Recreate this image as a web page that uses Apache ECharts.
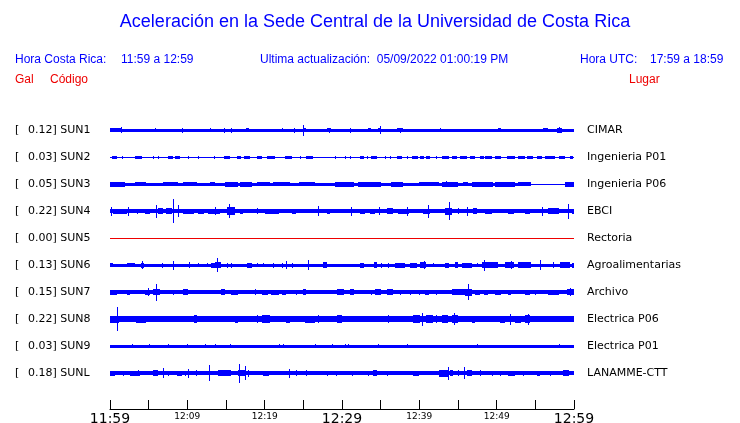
<!DOCTYPE html>
<html><head><meta charset="utf-8">
<script src="https://cdn.jsdelivr.net/npm/echarts@6/dist/echarts.min.js"></script>
<style>html,body{margin:0;padding:0;background:#fff}#c{width:740px;height:423px}</style>
</head><body><div id="c"></div>
<script>
// ---------- data ----------
const titleText = 'Aceleración en la Sede Central de la Universidad de Costa Rica';
const localLabel = 'Hora Costa Rica:';
const localRange = '11:59 a 12:59';
const updateText = 'Ultima actualización:  05/09/2022 01:00:19 PM';
const utcLabel = 'Hora UTC:';
const utcRange = '17:59 a 18:59';
const unitHeader = 'Gal';
const codeHeader = 'Código';
const placeHeader = 'Lugar';

const stations = ['SUN1','SUN2','SUN3','SUN4','SUN5','SUN6','SUN7','SUN8','SUN9','SUNL'];
const places = ['CIMAR','Ingenieria P01','Ingenieria P06','EBCI','Rectoria','Agroalimentarias','Archivo','Electrica P06','Electrica P01','LANAMME-CTT'];
const peaks = [0.12,0.03,0.05,0.22,0.00,0.13,0.15,0.22,0.03,0.18];

// minutes after 11:59
const tickLabels = ['11:59','','12:09','','12:19','','12:29','','12:39','','12:49','','12:59'];
const majorLabels = ['11:59','12:29','12:59'];

// background noise level (gal): [fromMin, toMin, halfAmplitude]
const band1 = [[0,60,0.028]];
const band2 = [[0,60,0.004]];
const band3 = [[0,54.5,0.028],[54.5,58.9,0.004],[58.9,60,0.028]];
const band4 = [[0,60,0.035]];
const band5 = [[0,60,0]];
const band6 = [[0,60,0.032]];
const band7 = [[0,60,0.035]];
const band8 = [[0,60,0.052]];
const band9 = [[0,60,0.03]];
const bandL = [[0,60,0.035]];

// events (gal): [min, amp] spike or [fromMin, toMin, amp] burst
const ev1 = [[0,1.5,0.04],[1.45,0.058],[5.8,0.037],[9.35,0.045],[12.9,0.04],[14.8,0.05],[15.7,0.045],[17.6,18.0,0.04],[22.2,0.04],[23.8,0.05],[24.9,25.3,0.04],[25.0,0.1],[28.0,28.6,0.04],[28.3,0.05],[31.0,0.05],[33.4,33.8,0.038],[34.7,35.1,0.04],[34.9,0.075],[37.1,37.9,0.04],[37.5,0.05],[42.7,0.04],[50.2,50.6,0.04],[56.0,56.6,0.038],[57.8,58.4,0.045],[58.1,0.06]];
const ev2 = [[0.2,0.9,0.025],[1.5,0.025],[3.2,4.1,0.025],[5.6,0.025],[6.25,0.025],[7.5,8.1,0.025],[8.4,9.05,0.025],[10.1,0.025],[11.4,0.025],[13.4,13.6,0.025],[14.7,15.5,0.025],[16.4,17.0,0.025],[17.3,18.1,0.025],[19.0,19.6,0.025],[20.3,21.3,0.025],[22.6,23.5,0.025],[24.6,0.025],[25.4,26.3,0.025],[29.1,0.025],[30.4,0.025],[31.0,0.025],[32.3,32.8,0.025],[33.2,0.025],[33.8,34.5,0.025],[35.6,0.025],[36.2,0.025],[37.1,37.7,0.025],[38.4,0.025],[39.0,39.8,0.025],[40.1,40.6,0.025],[40.9,41.4,0.025],[42.2,0.025],[42.9,43.9,0.028],[44.2,44.9,0.025],[45.2,46.1,0.025],[46.6,47.2,0.025],[47.8,48.3,0.025],[48.5,49.4,0.025],[49.8,50.6,0.025],[51.3,52.4,0.025],[52.8,53.6,0.025],[53.9,54.7,0.025],[55.2,55.8,0.025],[56.3,57.5,0.025],[58.0,58.8,0.025],[59.5,59.9,0.025]];
const ev3 = [[0,1.9,0.042],[3.2,4.7,0.04],[6.9,8.8,0.04],[9.5,11.2,0.04],[12.9,13.6,0.04],[14.9,16.5,0.042],[16.8,18.3,0.042],[19.0,20.7,0.04],[21.1,23.3,0.04],[24.4,26.5,0.04],[29.1,31.5,0.042],[32.1,33.5,0.042],[33.5,35.1,0.048],[36.4,37.9,0.042],[39.9,42.5,0.04],[42.9,45.0,0.045],[43.5,0.055],[45.7,46.3,0.04],[46.8,49.5,0.042],[49.8,52.4,0.042],[51.6,52.0,0.05],[52.8,54.5,0.04],[58.9,60,0.042]];
const ev4 = [[0.1,0.085],[0.4,1.3,0.048],[1.3,2.2,0.048],[2.3,0.085],[3.5,0.05],[4.5,5.2,0.048],[6.0,0.12],[6.25,6.9,0.055],[7.3,8.0,0.055],[8.15,0.22],[8.85,0.11],[9.5,10.8,0.048],[11.4,12.1,0.048],[12.7,14.2,0.048],[13.6,0.07],[15.1,16.2,0.07],[15.4,0.13],[16.8,17.2,0.05],[19.0,0.06],[20.0,21.8,0.045],[23.5,24.1,0.048],[26.9,0.09],[28.0,28.4,0.05],[31.1,0.085],[32.3,33.0,0.045],[33.6,34.3,0.048],[34.8,0.07],[35.8,36.6,0.052],[37.3,38.6,0.048],[38.4,0.08],[40.5,41.4,0.05],[41.1,0.12],[43.3,44.2,0.065],[43.8,0.17],[45.0,0.06],[46.1,0.08],[47.0,47.4,0.055],[48.5,49.4,0.048],[51.5,52.2,0.048],[53.7,54.3,0.048],[55.8,0.08],[56.7,58.0,0.055],[59.2,0.14],[59.7,60,0.05]];
const ev5 = [];
const ev6 = [[0,0.4,0.04],[2.2,3.2,0.04],[4.0,4.4,0.048],[4.1,0.077],[6.7,0.045],[8.1,0.08],[10.2,0.06],[11.4,0.04],[12.5,0.04],[13.1,13.6,0.048],[13.6,14.4,0.06],[13.9,0.13],[15.1,0.05],[15.7,0.05],[17.7,18.3,0.048],[19.0,0.04],[19.8,0.04],[21.1,0.05],[22.2,0.05],[22.8,0.075],[23.5,0.05],[25.6,0.09],[27.6,28.0,0.055],[32.3,32.8,0.048],[34.1,34.5,0.055],[35.1,0.05],[36.0,0.05],[36.9,38.1,0.048],[38.8,39.7,0.048],[40.1,40.9,0.055],[40.6,0.077],[41.8,0.04],[43.3,43.8,0.048],[44.6,45.0,0.055],[45.5,46.8,0.048],[47.4,0.04],[48.1,50.2,0.055],[48.4,0.1],[51.1,52.2,0.055],[51.9,0.075],[52.8,54.5,0.055],[55.6,0.09],[57.3,0.06],[58.2,59.5,0.052],[59.7,60,0.045]];
const ev7 = [[0,0.9,0.045],[2.2,2.6,0.048],[4.5,5.2,0.048],[4.9,0.075],[5.6,6.5,0.055],[5.95,0.157],[8.2,0.05],[9.5,10.1,0.06],[12.1,12.5,0.04],[13.4,0.04],[14.4,14.9,0.055],[15.7,16.6,0.045],[17.2,0.04],[18.75,0.06],[19.6,20.4,0.048],[20.8,21.8,0.048],[22.2,22.8,0.048],[24.0,0.05],[25.0,25.4,0.055],[26.4,0.04],[27.4,0.04],[28.4,0.04],[29.3,30.2,0.052],[31.0,31.5,0.052],[32.5,0.04],[33.8,0.05],[34.3,35.1,0.052],[35.8,36.6,0.052],[37.5,0.05],[38.8,0.05],[39.9,0.045],[40.7,41.2,0.048],[42.2,0.05],[44.2,45.9,0.052],[45.9,46.8,0.065],[46.3,0.148],[47.2,47.8,0.048],[48.3,48.9,0.048],[49.8,50.6,0.048],[51.5,51.9,0.048],[53.7,54.3,0.048],[55.0,0.045],[56.7,58.0,0.048],[59.1,60,0.055],[59.5,0.07]];
const ev8 = [[0,1.1,0.065],[0.86,0.22],[3.4,4.7,0.065],[6.9,8.0,0.06],[8.6,10.1,0.06],[10.8,11.2,0.07],[13.1,14.2,0.06],[16.2,16.6,0.065],[19.0,0.075],[19.6,20.7,0.072],[22.8,23.3,0.065],[25.2,26.5,0.065],[26.9,0.07],[29.3,30.0,0.07],[32.8,33.4,0.06],[36.0,0.075],[39.2,40.1,0.07],[40.3,0.117],[40.9,41.8,0.07],[42.2,0.075],[42.9,43.75,0.075],[44.2,45.0,0.072],[44.5,0.11],[46.8,47.2,0.065],[50.4,51.1,0.065],[51.7,0.1],[52.4,53.2,0.065],[53.7,54.3,0.075],[54.0,0.105],[57.1,58.0,0.06],[59.3,59.7,0.06]];
const ev9 = [[2.8,0.04],[5.0,0.04],[7.5,0.04],[9.9,0.04],[12.3,0.04],[13.6,0.04],[15.5,0.04],[21.8,0.04],[22.4,0.04],[26.5,0.04],[28.7,0.04],[30.4,0.04],[30.8,0.04],[34.7,0.04],[38.4,0.04],[47.4,0.04],[58.0,0.04]];
const evL = [[0,0.6,0.045],[1.7,0.05],[2.6,3.9,0.048],[3.6,0.06],[5.6,6.25,0.052],[6.9,0.09],[7.45,0.05],[8.6,9.3,0.048],[9.7,0.05],[10.1,0.085],[11.1,0.055],[12.85,0.145],[14.0,15.7,0.055],[16.5,17.5,0.055],[16.7,0.173],[17.5,0.127],[17.8,0.065],[19.8,20.5,0.048],[23.1,0.085],[24.1,0.06],[25.3,0.06],[28.0,0.045],[29.2,0.05],[31.25,0.045],[33.4,0.045],[34.05,34.5,0.055],[35.8,0.05],[37.9,0.04],[39.2,39.9,0.048],[41.4,0.04],[42.5,43.75,0.062],[43.75,0.12],[44.0,44.4,0.055],[45.0,0.06],[45.8,0.11],[46.1,46.8,0.055],[47.8,0.055],[49.4,0.05],[50.4,0.05],[51.5,52.4,0.048],[53.4,0.05],[55.2,55.6,0.048],[56.9,0.045],[58.6,59.3,0.055]];

const bands = [band1,band2,band3,band4,band5,band6,band7,band8,band9,bandL];
const events = [ev1,ev2,ev3,ev4,ev5,ev6,ev7,ev8,ev9,evL];

// ---------- chart ----------
const ROW = 0.5; // gal offset between traces
const BLUE = '#0000ff', RED = '#ee0000';
const traceData = [];
bands.forEach((b, r) => b.forEach(s => traceData.push([s[0], s[1], s[2], r])));
events.forEach((ev, r) => ev.forEach(s => {
  if (s.length === 2) traceData.push([s[0], s[0], s[1], r]);
  else traceData.push([s[0], s[1], s[2], r]);
}));
const labelData = stations.map((s, r) => [0, -r * ROW, r]);

function txt(x, y, text, font, color, align) {
  return {type:'text', x:x, y:y, silent:true, style:{
    text:text, font:font, textFont:font, fill:color, textFill:color,
    align:align||'left', textAlign:align||'left', verticalAlign:'middle', textVerticalAlign:'middle'}};
}
const hdrFont = '12px "Liberation Sans", Arial, sans-serif';

const chart = echarts.init(document.getElementById('c'), null, {renderer:'canvas'});
chart.setOption({
  animation:false,
  backgroundColor:'#fff',
  graphic:[
    txt(375, 22, titleText, '18px "Liberation Sans", Arial, sans-serif', BLUE, 'center'),
    txt(15, 60, localLabel, hdrFont, BLUE),
    txt(121, 60, localRange, hdrFont, BLUE),
    txt(260, 60, updateText, hdrFont, BLUE),
    txt(580, 60, utcLabel, hdrFont, BLUE),
    txt(650, 60, utcRange, hdrFont, BLUE),
    txt(15, 80, unitHeader, hdrFont, RED),
    txt(50, 80, codeHeader, hdrFont, RED),
    txt(629, 80, placeHeader, hdrFont, RED)
  ],
  grid:{left:110, right:166, top:103, height:306, containLabel:false, outerBoundsMode:'none'},
  xAxis:{type:'value', min:0, max:60, interval:5,
    axisLine:{onZero:false, lineStyle:{color:'#000', width:1}},
    axisTick:{inside:true, length:9, lineStyle:{color:'#000', width:1}},
    splitLine:{show:false},
    axisLabel:{margin:2, hideOverlap:false, showMinLabel:true, showMaxLabel:true,
      formatter:function(v){
        const l = tickLabels[Math.round(v/5)];
        if (!l) return '';
        return majorLabels.indexOf(l) >= 0 ? '{big|' + l + '}' : '{small|' + l + '}';
      },
      rich:{
        big:{fontSize:14, fontFamily:'DejaVu Sans', color:'#000', padding:[1,0,0,0]},
        small:{fontSize:9, fontFamily:'DejaVu Sans', color:'#000', padding:[1,0,0,0]}
      }}
  },
  yAxis:{type:'value', min:-5.16667, max:0.5, show:false},
  series:[
    {type:'custom', data:traceData, encode:{x:[0,1], y:2}, silent:true, clip:false,
      renderItem:function(params, api){
        const t0 = api.value(0), t1 = api.value(1), a = api.value(2), r = api.value(3);
        const c = -r * ROW;
        const pa = api.coord([t0, c + a]);
        const pb = api.coord([t1, c - a]);
        const pc = api.coord([t0, c]);
        let x0 = Math.round(pa[0]), x1 = Math.round(pb[0]);
        if (x1 - x0 < 1) x1 = x0 + 1;
        const h = Math.max(1, Math.round(pb[1] - pa[1]));
        const y0 = Math.round(pc[1]) - Math.floor(h / 2);
        return {type:'rect', shape:{x:x0, y:y0, width:x1 - x0, height:h},
          style:{fill: peaks[r] === 0 ? RED : BLUE, stroke:null, lineWidth:0}};
      }},
    {type:'custom', data:labelData, encode:{x:0, y:1}, silent:true, clip:false,
      renderItem:function(params, api){
        const r = api.value(2);
        const p = api.coord([0, -r * ROW]);
        const pe = api.coord([60, -r * ROW]);
        const f = '11px "DejaVu Sans", sans-serif';
        return {type:'group', children:[
          txt(15, p[1], '[', f, '#000'),
          txt(28, p[1], peaks[r].toFixed(2) + '] ' + stations[r], f, '#000'),
          txt(pe[0] + 13, p[1], places[r], f, '#000')
        ]};
      }}
  ]
});
</script></body></html>
